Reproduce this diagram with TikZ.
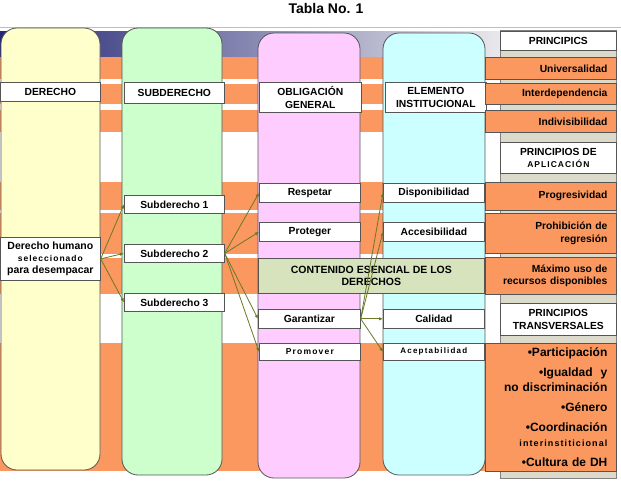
\documentclass[tikz,border=0pt]{standalone}
\usepackage{fontspec}
\setmainfont{Liberation Sans}
\usetikzlibrary{arrows.meta}
\definecolor{orng}{RGB}{250,152,96}
\definecolor{ylw}{RGB}{255,255,204}
\definecolor{grn}{RGB}{204,255,204}
\definecolor{pnk}{RGB}{255,204,255}
\definecolor{cyn}{RGB}{204,255,255}
\definecolor{olv}{RGB}{106,120,38}
\definecolor{cont}{RGB}{215,227,188}
\definecolor{panel}{RGB}{220,219,203}
\definecolor{navy}{RGB}{38,40,118}
\definecolor{lightgr}{RGB}{232,232,236}
\definecolor{edge}{RGB}{85,85,85}
\newcommand{\fsz}[2]{\fontsize{#1}{#2}\selectfont}
\newcommand{\spaced}[2]{{\addfontfeature{LetterSpace=#1}#2}}
\begin{document}
\begin{tikzpicture}[x=1pt,y=-1pt,
  col/.style={draw=edge, line width=0.8pt, rounded corners=16pt},
  wbox/.style={draw=edge, fill=white, line width=0.7pt, inner sep=0pt,
    font=\bfseries\fsz{10.3}{12.5}, align=center, anchor=north west},
  obox/.style={draw=edge, fill=orng, line width=0.7pt, inner xsep=9pt, inner ysep=0pt,
    text width=113pt, align=right, anchor=north west, minimum height=#1,
    font=\bfseries\fsz{10.3}{12.5}},
  conn/.style={olv, line width=0.8pt, -{Latex[length=4pt,width=3.5pt]}},
]
\useasboundingbox (0,0) rectangle (621,480);
% title
\node[font=\bfseries\fsz{14}{16}, anchor=base] (title) at (326,13.5) {Tabla No. 1};
\draw[gray!50, line width=0.8pt] (0,27) -- (621,27);
% banner
\shade[left color=navy, right color=lightgr] (0,31) rectangle (500,57);
% orange bands
\fill[orng] (0,57) rectangle (490,79);
\fill[orng] (0,84) rectangle (490,104);
\fill[orng] (0,110) rectangle (490,132);
\fill[orng] (0,182) rectangle (490,210);
\fill[orng] (0,213) rectangle (490,254);
\fill[orng] (0,258) rectangle (490,294);
\fill[orng] (0,343) rectangle (490,471);
% columns
\draw[col, fill=ylw] (1,28) rectangle (100,470);
\draw[col, fill=grn] (122,28) rectangle (222,475);
\draw[col, fill=pnk] (258,33) rectangle (360,478);
\draw[col, fill=cyn] (383,33) rectangle (485,475);
% right panel
\draw[fill=panel, draw=gray, line width=0.8pt] (500,30) rectangle (616,478);
% headers
\node[wbox, minimum width=100pt, minimum height=19pt] (hder) at (0,82) {DERECHO};
\node[wbox, minimum width=100pt, minimum height=21pt] (hsub) at (124,82) {SUBDERECHO};
\node[wbox, minimum width=102pt, minimum height=30pt] (hobl) at (259,82) {OBLIGACIÓN\\GENERAL};
\node[wbox, minimum width=101pt, minimum height=30pt] (hele) at (385,82) {ELEMENTO\\INSTITUCIONAL};
\node[wbox, minimum width=116pt, minimum height=19pt] (hpri) at (500,31) {PRINCIPICS};
\node[wbox, minimum width=116pt, minimum height=31pt] (hapl) at (500,142) {PRINCIPIOS DE\\{\fsz{8.5}{12.5}\spaced{12}{APLICACIÓN}}};
\node[wbox, minimum width=116pt, minimum height=32pt] (htra) at (500,303) {PRINCIPIOS\\TRANSVERSALES};
% right orange boxes
\node[obox=22pt] (uni) at (485,57) {Universalidad};
\node[obox=21pt] (inter) at (485,83) {Interdependencia};
\node[obox=22pt] (indiv) at (485,110) {Indivisibilidad};
\node[obox=28pt] (progr) at (485,182) {Progresividad};
\node[obox=40pt] (prohib) at (485,213) {Prohibición de\\regresión};
\node[obox=37pt] (maxim) at (485,257) {Máximo uso de\\recursos disponibles};
\node[obox=128pt, font=\bfseries\fsz{12}{15}] (transv) at (485,343) {%
  •Participación\\[5pt]
  •Igualdad~ y\\
  no discriminación\\[5pt]
  •Género\\[5pt]
  •Coordinación\\
  {\fsz{9}{15}\spaced{12}{interinstiticional}}\\[5pt]
  •Cultura de DH};
% left boxes
\node[wbox, minimum width=100pt, minimum height=43pt, font=\bfseries\fsz{10.5}{12}] (dh) at (0,237)
  {Derecho humano\\{\fsz{8.5}{12}\spaced{12}{seleccionado}}\\para desempacar};
\node[wbox, minimum width=100pt, minimum height=18pt] (sub1) at (124,195) {Subderecho 1};
\node[wbox, minimum width=100pt, minimum height=18pt] (sub2) at (124,244) {Subderecho 2};
\node[wbox, minimum width=100pt, minimum height=18pt] (sub3) at (124,293) {Subderecho 3};
% obligation boxes
\node[wbox, minimum width=101pt, minimum height=19pt] (resp) at (259,183) {Respetar};
\node[wbox, minimum width=101pt, minimum height=19pt] (prot) at (259,222) {Proteger};
\node[wbox, minimum width=102pt, minimum height=19pt] (gar) at (258,309) {Garantizar};
\node[wbox, minimum width=101pt, minimum height=17pt, font=\bfseries\fsz{8.5}{10}] (prom) at (259,343) {\spaced{14}{Promover}};
% element boxes
\node[wbox, minimum width=101pt, minimum height=19pt] (disp) at (383,183) {Disponibilidad};
\node[wbox, minimum width=101pt, minimum height=19pt] (acc) at (383,222) {Accesibilidad};
\node[wbox, minimum width=101pt, minimum height=19pt] (cal) at (383,309) {Calidad};
\node[wbox, minimum width=101pt, minimum height=17pt, font=\bfseries\fsz{8}{10}] (acep) at (383,343) {\spaced{15}{Aceptabilidad}};
% contenido
\node[wbox, fill=cont, minimum width=226pt, minimum height=35pt, font=\bfseries\fsz{10.5}{12}] (cont) at (258,258)
  {CONTENIDO ESENCIAL DE LOS\\DERECHOS};
% connectors
\draw[conn] (dh.east) -- (sub1.west);
\draw[conn] (dh.east) -- (sub2.west);
\draw[conn] (dh.east) -- (sub3.west);
\draw[conn] (sub2.east) -- (resp.west);
\draw[conn] (sub2.east) -- (prot.west);
\draw[conn] (sub2.east) -- (gar.west);
\draw[conn] (sub2.east) -- (prom.west);
\draw[conn] (gar.east) -- (disp.west);
\draw[conn] (gar.east) -- (acc.west);
\draw[conn] (gar.east) -- (cal.west);
\draw[conn] (gar.east) -- (acep.west);
\end{tikzpicture}
\end{document}
